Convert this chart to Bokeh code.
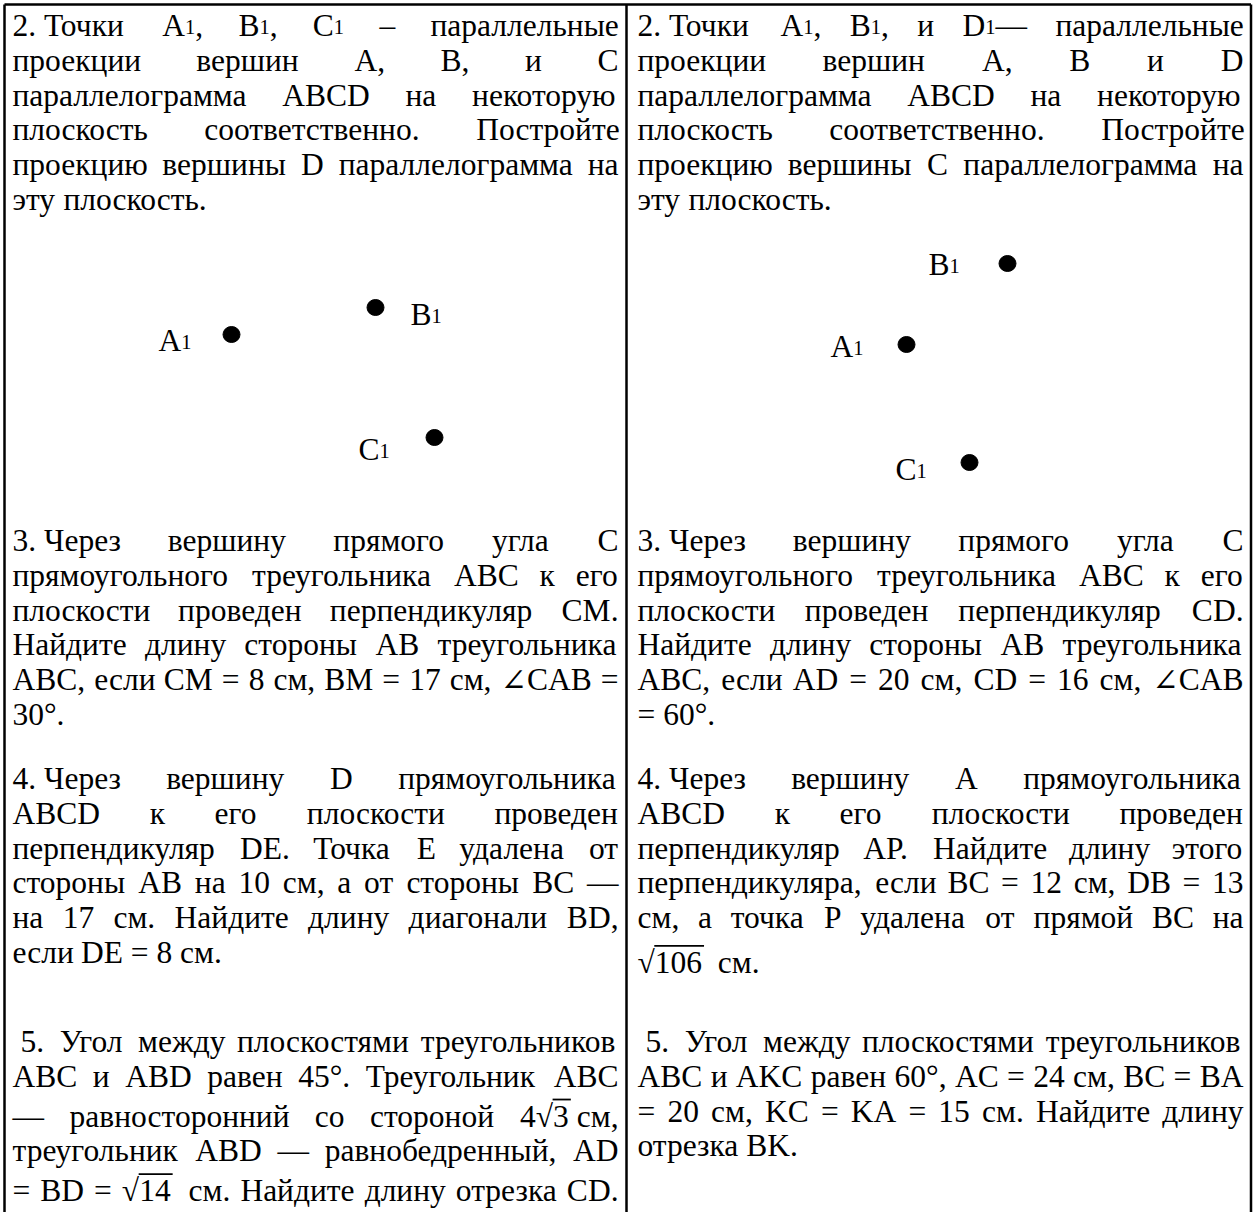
import glob, os, struct, subprocess
from bokeh.plotting import figure
from bokeh.models import Range1d, ColumnDataSource
from bokeh.core.properties import value, field
from bokeh.embed import file_html
from bokeh.resources import INLINE

# ------------------------------------------------------------------ data
# "~" = fixed space, "_1" = subscript 1, "√{..}" = radical with overline
left_p2 = [
    "2.~Точки A_1, B_1, C_1 – параллельные",
    "проекции вершин A, B, и C",
    "параллелограмма ABCD на некоторую",
    "плоскость соответственно. Постройте",
    "проекцию вершины D параллелограмма на",
    "эту плоскость.",
]
left_p3 = [
    "3.~Через вершину прямого угла C",
    "прямоугольного треугольника ABC к его",
    "плоскости проведен перпендикуляр CM.",
    "Найдите длину стороны AB треугольника",
    "ABC, если CM = 8 см, BM = 17 см, ∠CAB =",
    "30°.",
]
left_p4 = [
    "4.~Через вершину D прямоугольника",
    "ABCD к его плоскости проведен",
    "перпендикуляр DE. Точка E удалена от",
    "стороны AB на 10 см, а от стороны BC —",
    "на 17 см. Найдите длину диагонали BD,",
    "если DE = 8 см.",
]
left_p5 = [
    "~5.~~Угол между плоскостями треугольников",
    "ABC и ABD равен 45°. Треугольник ABC",
    "— равносторонний со стороной 4√{3}~см,",
    "треугольник ABD — равнобедренный, AD",
    "= BD = √{14}~ см. Найдите длину отрезка CD.",
]
right_p2 = [
    "2.~Точки A_1, B_1, и D_1— параллельные",
    "проекции вершин A, B и D",
    "параллелограмма ABCD на некоторую",
    "плоскость соответственно. Постройте",
    "проекцию вершины C параллелограмма на",
    "эту плоскость.",
]
right_p3 = [
    "3.~Через вершину прямого угла C",
    "прямоугольного треугольника ABC к его",
    "плоскости проведен перпендикуляр CD.",
    "Найдите длину стороны AB треугольника",
    "ABC, если AD = 20 см, CD = 16 см, ∠CAB",
    "= 60°.",
]
right_p4 = [
    "4.~Через вершину A прямоугольника",
    "ABCD к его плоскости проведен",
    "перпендикуляр AP. Найдите длину этого",
    "перпендикуляра, если BC = 12 см, DB = 13",
    "см, а точка P удалена от прямой BC на",
    "√{106}~ см.",
]
right_p5 = [
    "~5.~~Угол между плоскостями треугольников",
    "ABC и AKC равен 60°, AC = 24 см, BC = BA",
    "= 20 см, KC = KA = 15 см. Найдите длину",
    "отрезка BK.",
]

# projected points (drawing in the first row)
dot_names = ["A", "B", "C"]
left_dot_x = [231, 375, 434]
left_dot_y = [334, 307, 437]
left_label_x = [158, 410, 358]
left_label_y = [348, 322, 457]
right_dot_x = [906, 1007, 969]
right_dot_y = [344, 263, 462]
right_label_x = [830, 928, 895]
right_label_y = [354, 272, 477]

# ------------------------------------------------------------------ layout / style
W, H = 1253, 1212
FONT = "Liberation Serif"
F = 31.5          # font size px
SUBF = 0.65       # subscript size factor
SUB_DY = 1.5
TEXT_DY = -8      # renderer baseline compensation
LH = 34.8         # line height
ROW_Y = [33, 548, 786, 1049]
COLS = {"left": (12, 618), "right": (637, 1243)}
BORDER_L, BORDER_R, BORDER_T, DIVIDER = 4, 1250.5, 4, 626


# ------------------------------------------------------------------ font metrics
def parse_ttf(path):
    data = open(path, "rb").read()
    u16 = lambda o: struct.unpack_from(">H", data, o)[0]
    u32 = lambda o: struct.unpack_from(">I", data, o)[0]
    tabs = {}
    for i in range(u16(4)):
        rec = 12 + 16 * i
        tabs[data[rec:rec + 4].decode("latin-1")] = u32(rec + 8)
    upem = u16(tabs["head"] + 18)
    nhm = u16(tabs["hhea"] + 34)
    hm = tabs["hmtx"]
    adv = [u16(hm + 4 * i) for i in range(nhm)]
    cm = tabs["cmap"]
    best = None
    for i in range(u16(cm + 2)):
        pid, eid, off = struct.unpack_from(">HHI", data, cm + 4 + 8 * i)
        fmt = u16(cm + off)
        if pid == 3 and eid == 10 and fmt == 12:
            best = (12, cm + off)
            break
        if fmt == 4 and best is None and (pid == 3 or pid == 0):
            best = (4, cm + off)
    fmt, o = best
    if fmt == 4:
        seg2 = u16(o + 6)
        ends = o + 14
        starts = ends + seg2 + 2
        deltas = starts + seg2
        roffs = deltas + seg2

        def gid(c):
            for k in range(seg2 // 2):
                e = u16(ends + 2 * k)
                if c <= e:
                    s = u16(starts + 2 * k)
                    if c < s:
                        return 0
                    d = u16(deltas + 2 * k)
                    r = u16(roffs + 2 * k)
                    if r == 0:
                        return (c + d) & 0xFFFF
                    g = u16(roffs + 2 * k + r + 2 * (c - s))
                    return (g + d) & 0xFFFF if g else 0
            return 0
    else:
        ng = u32(o + 12)
        groups = [struct.unpack_from(">III", data, o + 16 + 12 * k) for k in range(ng)]

        def gid(c):
            for s, e, g in groups:
                if s <= c <= e:
                    return g + c - s
            return 0

    def width(ch):
        g = gid(ord(ch))
        if g == 0:
            return None
        return adv[min(g, nhm - 1)] / upem
    return width


def load_metrics(fname, family):
    paths = []
    for root in ["/usr/share/fonts", "/usr/local/share/fonts", os.path.expanduser("~/.fonts")]:
        paths += glob.glob(os.path.join(root, "**", fname), recursive=True)
    if not paths:
        try:
            out = subprocess.run(["fc-match", "-f", "%{file}", family], capture_output=True,
                                 text=True, timeout=10).stdout.strip()
            if out and os.path.exists(out) and os.path.basename(out) == fname:
                paths.append(out)
        except Exception:
            pass
    for path in paths:
        try:
            return parse_ttf(path)
        except Exception:
            continue
    return None


FONTS = [(FONT, load_metrics("LiberationSerif-Regular.ttf", FONT)),
         ("DejaVu Serif", load_metrics("DejaVuSerif.ttf", "DejaVu Serif")),
         ("DejaVu Sans", load_metrics("DejaVuSans.ttf", "DejaVu Sans"))]


def fallback(ch):
    if ch in " .,:;":
        return 0.25
    if ch == "–":
        return 0.5
    if ch == "—":
        return 1.0
    if ch == "∠":
        return 0.78
    if ch.isupper():
        return 0.68
    if ch.isdigit():
        return 0.5
    return 0.48


def char_font(ch):
    for fam, fn in FONTS:
        if fn is not None:
            w = fn(ch)
            if w is not None:
                return fam, w
    return FONT, fallback(ch)


def cw(ch):
    return char_font(ch)[1]


def tw(text, size):
    return sum(cw(c) for c in text) * size


# ------------------------------------------------------------------ parsing
def parse_word(word):
    runs = []
    i = 0
    while i < len(word):
        c = word[i]
        if c == "_" and i + 1 < len(word):
            runs.append([word[i + 1], "s"])
            i += 2
            continue
        if c == "√" and i + 1 < len(word) and word[i + 1] == "{":
            j = word.index("}", i)
            runs.append(["√", "n"])
            runs.append([word[i + 2:j].replace("~", " "), "o"])
            i = j + 1
            continue
        ch = " " if c == "~" else c
        if runs and runs[-1][1] == "n":
            runs[-1][0] += ch
        else:
            runs.append([ch, "n"])
        i += 1
    return runs


def run_size(kind):
    return F * SUBF if kind == "s" else F


def word_width(runs):
    return sum(tw(t, run_size(k)) for t, k in runs)


# ------------------------------------------------------------------ build glyph data
tx, ty, tt, ts, tf = [], [], [], [], []
ox0, ox1, oy = [], [], []


def put_run(x, y, text, kind):
    size = run_size(kind)
    yy = y + TEXT_DY + (SUB_DY if kind == "s" else 0)
    cur = x
    buf = {"s": "", "x": x, "f": None}

    def flush():
        if buf["s"]:
            tx.append(buf["x"]); ty.append(yy); tt.append(buf["s"])
            ts.append("%.2fpx" % size); tf.append(buf["f"])
        buf["s"] = ""

    for ch in text:
        fam, w = char_font(ch)
        if ch == " ":
            flush()
            cur += w * size
            continue
        if buf["s"] and fam != buf["f"]:
            flush()
        if not buf["s"]:
            buf["x"] = cur
            buf["f"] = fam
        buf["s"] += ch
        cur += w * size
    flush()
    if kind == "o":
        ox0.append(x - 0.5); ox1.append(cur + 2); oy.append(y - 0.78 * F)
    return cur


def layout(lines, col, y0, eq_extra, justify_last=False):
    x0, x1 = COLS[col]
    y = y0
    for i, line in enumerate(lines):
        if "√" in line and i > 0:
            y += eq_extra
        words = [parse_word(w) for w in line.split(" ") if w]
        widths = [word_width(w) for w in words]
        last = i == len(lines) - 1
        if (not last or justify_last) and len(words) > 1:
            gap = (x1 - x0 - sum(widths)) / (len(words) - 1)
        else:
            gap = tw(" ", F)
        x = x0
        for runs, wd in zip(words, widths):
            cx = x
            for t, k in runs:
                cx = put_run(cx, y, t, k)
            x += wd + gap
        y += LH


layout(left_p2, "left", ROW_Y[0], 0)
layout(left_p3, "left", ROW_Y[1], 0)
layout(left_p4, "left", ROW_Y[2], 0)
layout(left_p5, "left", ROW_Y[3], 5, justify_last=True)
layout(right_p2, "right", ROW_Y[0], 0)
layout(right_p3, "right", ROW_Y[1], 0)
layout(right_p4, "right", ROW_Y[2], 10)
layout(right_p5, "right", ROW_Y[3], 0)

for lx, ly in [(left_label_x, left_label_y), (right_label_x, right_label_y)]:
    for n, x, y in zip(dot_names, lx, ly):
        e = put_run(x, y, n, "n")
        put_run(e, y, "1", "s")

# ------------------------------------------------------------------ figure
p = figure(width=W, height=H, x_range=Range1d(0, W), y_range=Range1d(H, 0),
           output_backend="svg", toolbar_location=None, min_border=0,
           x_axis_type=None, y_axis_type=None)
p.grid.visible = False
p.outline_line_color = None
p.background_fill_color = "white"
p.border_fill_color = "white"

# table borders
p.segment(x0=[BORDER_L, BORDER_R, BORDER_L, DIVIDER],
          y0=[BORDER_T, BORDER_T, BORDER_T, BORDER_T],
          x1=[BORDER_L, BORDER_R, BORDER_R, DIVIDER],
          y1=[H, H, BORDER_T, H],
          line_color="black", line_width=2.5)

src = ColumnDataSource(dict(x=tx, y=ty, text=tt, size=ts, font=tf))
p.text(x="x", y="y", text="text", source=src, text_font=field("font"),
       text_font_size=field("size"), text_baseline="alphabetic", text_align="left",
       text_color="black")

if ox0:
    p.segment(x0=ox0, y0=oy, x1=ox1, y1=oy, line_color="black", line_width=1.8)

p.ellipse(x=left_dot_x + right_dot_x, y=left_dot_y + right_dot_y, width=17, height=16,
          fill_color="black", line_color="black")

open("out.html", "w").write(file_html(p, INLINE))
